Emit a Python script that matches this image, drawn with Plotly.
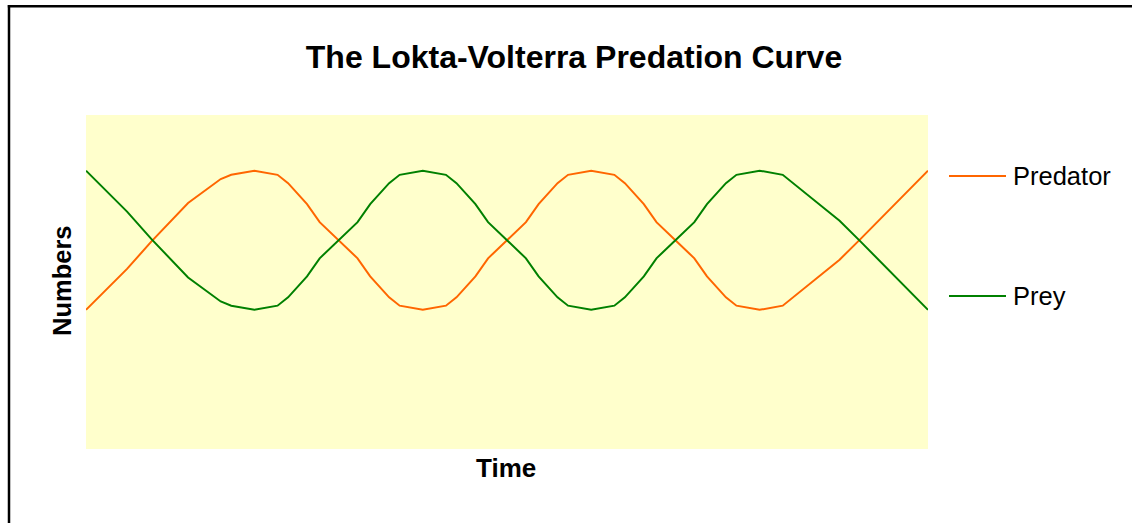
import plotly.graph_objects as go

# ---- data ----
time_predator = [0, 1.95, 3.1, 4.0, 4.85, 6.4, 6.9, 8.0,
                 9.1, 9.6, 10.5, 11.1, 12.0, 12.9, 13.5, 14.4, 14.9, 16.0,
                 17.1, 17.6, 18.5, 19.1, 20.0, 20.9, 21.5, 22.4, 22.9, 24.0,
                 25.1, 25.6, 26.5, 27.1, 28.0, 28.9, 29.5, 30.4, 30.9, 32.0,
                 33.1, 33.6, 34.5, 35.8, 36.8, 40.0]
predator = [5.0, 6.47, 7.45, 8.16, 8.84, 9.7, 9.85, 10.0,
            9.85, 9.55, 8.8, 8.15, 7.5, 6.85, 6.2, 5.45, 5.15, 5.0,
            5.15, 5.45, 6.2, 6.85, 7.5, 8.15, 8.8, 9.55, 9.85, 10.0,
            9.85, 9.55, 8.8, 8.15, 7.5, 6.85, 6.2, 5.45, 5.15, 5.0,
            5.15, 5.45, 6.0, 6.8, 7.55, 10.0]

time_prey = time_predator
prey = [10.0, 8.53, 7.55, 6.84, 6.16, 5.3, 5.15, 5.0,
        5.15, 5.45, 6.2, 6.85, 7.5, 8.15, 8.8, 9.55, 9.85, 10.0,
        9.85, 9.55, 8.8, 8.15, 7.5, 6.85, 6.2, 5.45, 5.15, 5.0,
        5.15, 5.45, 6.2, 6.85, 7.5, 8.15, 8.8, 9.55, 9.85, 10.0,
        9.85, 9.55, 9.0, 8.2, 7.45, 5.0]

series_names = ["Predator", "Prey"]
series_colors = ["#FF6600", "#008000"]

FONT = "Liberation Sans, Arial, sans-serif"

fig = go.Figure()
fig.add_trace(go.Scatter(x=time_predator, y=predator, mode="lines", name=series_names[0],
                         line=dict(color=series_colors[0], width=2), showlegend=False))
fig.add_trace(go.Scatter(x=time_prey, y=prey, mode="lines", name=series_names[1],
                         line=dict(color=series_colors[1], width=2), showlegend=False))

W, H = 1132, 523
# plot area in screen px
L, R, T, B = 86, 928, 115, 449
pw, ph = R - L, B - T

def px(xp):
    return (xp - L) / pw

def py(yp):
    return (B - yp) / ph

annotations = [
    dict(text="<b>Time</b>", x=px(506), y=py(468), xref="paper", yref="paper",
         xanchor="center", yanchor="middle", showarrow=False,
         font=dict(family=FONT, size=26, color="black")),
    dict(text="<b>Numbers</b>", x=px(62), y=py(281), xref="paper", yref="paper",
         xanchor="center", yanchor="middle", showarrow=False, textangle=-90,
         font=dict(family=FONT, size=25.5, color="black")),
]
shapes = [
    # chart-area border (only top and left edges visible in the frame)
    dict(type="line", xref="paper", yref="paper", x0=px(7.8), x1=px(1140), y0=py(6.3), y1=py(6.3),
         line=dict(color="black", width=2.5), layer="above"),
    dict(type="line", xref="paper", yref="paper", x0=px(9), x1=px(9), y0=py(5), y1=py(540),
         line=dict(color="black", width=2.5), layer="above"),
]
leg_y = [176, 296]
for name, col, yy in zip(series_names, series_colors, leg_y):
    shapes.append(dict(type="line", xref="paper", yref="paper", x0=px(949), x1=px(1006),
                       y0=py(yy), y1=py(yy), line=dict(color=col, width=2)))
    annotations.append(dict(text=name, x=px(1011), y=py(yy), xref="paper", yref="paper",
                            xanchor="left", yanchor="middle", showarrow=False,
                            font=dict(family=FONT, size=25.5, color="black")))

fig.update_layout(
    width=W, height=H,
    margin=dict(l=L, r=W - R, t=T, b=H - B, pad=0),
    paper_bgcolor="white", plot_bgcolor="#FFFFCC",
    title=dict(text="<b>The Lokta-Volterra Predation Curve</b>", x=574 / W, xanchor="center",
               y=1 - 57 / H, yanchor="middle", font=dict(family=FONT, size=32, color="black")),
    xaxis=dict(range=[0, 40], showgrid=False, zeroline=False, showticklabels=False, ticks="",
               showline=False),
    yaxis=dict(range=[0, 12], showgrid=False, zeroline=False, showticklabels=False, ticks="",
               showline=False),
    annotations=annotations, shapes=shapes,
)

fig.write_html("out.html", config={"displayModeBar": False},
               post_script="document.body.style.margin='0px';document.body.style.overflow='hidden';")
